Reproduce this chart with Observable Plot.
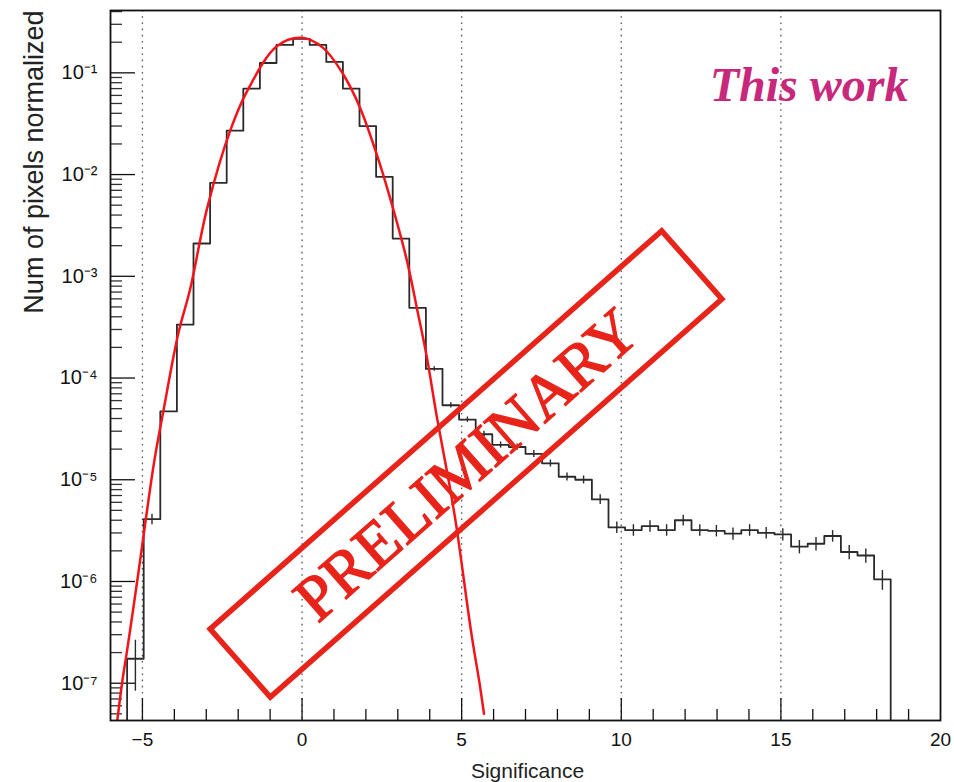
<!DOCTYPE html>
<html>
<head>
<meta charset="utf-8">
<script src="https://cdn.jsdelivr.net/npm/d3@7"></script>
<script src="https://cdn.jsdelivr.net/npm/@observablehq/plot@0.6"></script>
<style>
  body { margin: 0; background: #fff; }
</style>
</head>
<body>
<script>
// Histogram axis: 50 equal bins between -6 and 20 in significance
const histRange = [-6, 20];
const histBins = 50;

// Normalized fraction of pixels in each bin (0 = empty bin)
const binContent = [
  0, 1.74e-7, 4.1e-6, 4.7e-5, 3.35e-4, 2.1e-3, 8.3e-3, 0.027, 0.070, 0.125,
  0.188, 0.216, 0.188, 0.128, 0.070, 0.030, 0.0095, 2.35e-3, 4.9e-4, 1.23e-4,
  5.4e-5, 3.9e-5, 2.8e-5, 2.2e-5, 2.1e-5, 1.8e-5, 1.45e-5, 1.07e-5, 1.0e-5, 6.4e-6,
  3.4e-6, 3.2e-6, 3.5e-6, 3.2e-6, 4.0e-6, 3.2e-6, 3.15e-6, 2.95e-6, 3.2e-6, 3.0e-6,
  2.9e-6, 2.2e-6, 2.35e-6, 2.8e-6, 1.95e-6, 1.8e-6, 1.05e-6, 0, 0, 0
];

// Relative statistical error bar on each bin (0 = not drawn)
const binError = [
  0, 0.52, 0.12, 0, 0, 0, 0, 0, 0, 0,
  0, 0, 0, 0, 0, 0, 0, 0, 0, 0.05,
  0.06, 0.06, 0.07, 0.07, 0.07, 0.08, 0.08, 0.09, 0.09, 0.11,
  0.13, 0.13, 0.13, 0.13, 0.12, 0.13, 0.13, 0.14, 0.13, 0.13,
  0.14, 0.15, 0.15, 0.13, 0.16, 0.16, 0.22, 0, 0, 0
];

// Gaussian fit curve, sampled along significance
const fitX = [-5.8, -5.625, -5.47, -5.165, -4.98, -4.64, -4.34, -3.875, -3.5, -2.97,
  -2.25, -1.72, -0.78, 0, 0.66, 1.28, 1.81, 2.34, 2.75, 3.28,
  3.59, 3.91, 4.22, 4.625, 4.84, 5.31, 5.56, 5.7];
const fitY = [4.0e-8, 1.07e-7, 2.2e-7, 1.0e-6, 2.6e-6, 1.45e-5, 4.8e-5, 2.75e-4, 7.6e-4, 4.7e-3,
  0.027, 0.066, 0.184, 0.221, 0.176, 0.098, 0.046, 0.0158, 6.0e-3, 1.45e-3,
  5.0e-4, 1.6e-4, 4.2e-5, 8.7e-6, 3.4e-6, 3.0e-7, 1.0e-7, 5.0e-8];

// Axis ticks and labels
const xDomain = [-6, 20];
const yDomain = [4.3e-8, 0.41];
const xGrid = [-5, 0, 5, 10, 15];
const xMajorTicks = [-5, 0, 5, 10, 15];
const xMinorTicks = [-4, -3, -2, -1, 1, 2, 3, 4, 6, 7, 8, 9, 11, 12, 13, 14, 16, 17, 18, 19];
const xTickLabels = [-5, 0, 5, 10, 15, 20];
const yDecades = [1e-1, 1e-2, 1e-3, 1e-4, 1e-5, 1e-6, 1e-7];
const yDecadeLabels = ["10⁻¹", "10⁻²", "10⁻³", "10⁻⁴", "10⁻⁵", "10⁻⁶", "10⁻⁷"];
const yMinorMultipliers = [2, 3, 4, 5, 6, 7, 8, 9];

const W = 954, H = 782;
const margin = {top: 10, right: 14, bottom: 62, left: 110};
const frameW = W - margin.left - margin.right;
const frameH = H - margin.top - margin.bottom;

// Bin edges of the histogram axis
const edges = d3.range(histBins + 1).map(i => histRange[0] + i * (histRange[1] - histRange[0]) / histBins);

// Empty bins are drawn below the visible range, as on a log axis
const offScale = 1e-12;
const outline = [];
binContent.forEach((v, i) => {
  const y = v > 0 ? v : offScale;
  outline.push({x: edges[i], y}, {x: edges[i + 1], y});
});

const errBars = binContent
  .map((v, i) => ({x: (edges[i] + edges[i + 1]) / 2, v, r: binError[i]}))
  .filter(d => d.v > 0 && d.r > 0);

const fit = fitX.map((x, i) => ({x, y: fitY[i]}));

const yMinorTicks = [];
for (let e = -8; e <= -1; e++) {
  for (const m of yMinorMultipliers) {
    const t = m * Math.pow(10, e);
    if (t > yDomain[0] && t < yDomain[1]) yMinorTicks.push(t);
  }
}

const decadeLabel = new Map(yDecades.map((d, i) => [d, yDecadeLabels[i]]));

const ink = "#111";

const chart = Plot.plot({
  width: W,
  height: H,
  marginTop: margin.top,
  marginRight: margin.right,
  marginBottom: margin.bottom,
  marginLeft: margin.left,
  x: {type: "linear", domain: xDomain, label: null},
  y: {type: "log", domain: yDomain, label: null},
  style: {fontFamily: "'Liberation Sans', Arial, Helvetica, sans-serif", background: "#fff", color: ink},
  marks: [
    // dotted vertical grid
    Plot.ruleX(xGrid, {x: d => d, stroke: "#555", strokeWidth: 1.3, strokeDasharray: "1.6,4.6"}),

    // x ticks pointing into the frame
    Plot.tickX(xMinorTicks, {x: d => d, insetTop: frameH - 11, stroke: ink, strokeWidth: 1.3}),
    Plot.tickX(xMajorTicks, {x: d => d, insetTop: frameH - 22, stroke: ink, strokeWidth: 1.3}),

    // y ticks pointing into the frame
    Plot.tickY(yMinorTicks, {y: d => d, insetRight: frameW - 12, stroke: "#333", strokeWidth: 1.3}),
    Plot.tickY(yDecades, {y: d => d, insetRight: frameW - 25, stroke: ink, strokeWidth: 1.3}),

    // tick labels
    Plot.axisX(xTickLabels, {tickSize: 0, tickPadding: 12, fontSize: 19, label: null, fill: ink}),
    Plot.axisY(yDecades, {tickSize: 0, tickPadding: 13, fontSize: 20, label: null, fill: ink,
      tickFormat: d => decadeLabel.get(d)}),

    // histogram outline
    Plot.line(outline, {x: "x", y: "y", stroke: "#2a2a2a", strokeWidth: 1.8, clip: true}),

    // statistical error bars
    Plot.ruleX(errBars, {x: "x", y1: d => d.v * (1 - d.r), y2: d => d.v * (1 + d.r),
      stroke: "#2a2a2a", strokeWidth: 1.4, clip: true}),

    // Gaussian fit
    Plot.line(fit, {x: "x", y: "y", curve: "catmull-rom", stroke: "#f2141a", strokeWidth: 2.5, clip: true}),

    Plot.frame({stroke: ink, strokeWidth: 1.8}),

    // axis titles
    Plot.text(["Num of pixels normalized"], {frameAnchor: "top-left", dx: -76, dy: 0, rotate: -90,
      textAnchor: "end", lineAnchor: "middle", fontSize: 27, fill: "#222"}),
    Plot.text(["Significance"], {frameAnchor: "bottom", dx: 2, dy: 57, lineAnchor: "bottom",
      fontSize: 21, fill: "#222"}),

    // annotation
    Plot.text(["This work"], {frameAnchor: "top-right", dx: -32, dy: 90, textAnchor: "end",
      lineAnchor: "bottom", fontFamily: "'Liberation Serif', 'Times New Roman', serif",
      fontWeight: "bold", fontStyle: "italic", fontSize: 48, fill: "#c8287c"})
  ]
});

document.body.appendChild(chart);

// "PRELIMINARY" stamp laid across the frame
const stampColor = "#e8241a";
const stamp = d3.select(chart).append("g")
  .attr("transform", `translate(${margin.left + 356},${margin.top + 454}) rotate(-41.4)`);
stamp.append("rect")
  .attr("x", -301).attr("y", -45.5)
  .attr("width", 602).attr("height", 91)
  .attr("fill", "none")
  .attr("stroke", stampColor)
  .attr("stroke-width", 5.5);
stamp.append("text")
  .attr("text-anchor", "middle")
  .attr("y", 22)
  .attr("font-family", "'Liberation Serif', 'Times New Roman', serif")
  .attr("font-size", 64)
  .attr("fill", stampColor)
  .attr("stroke", stampColor)
  .attr("stroke-width", 1.3)
  .text("PRELIMINARY");
</script>
</body>
</html>
